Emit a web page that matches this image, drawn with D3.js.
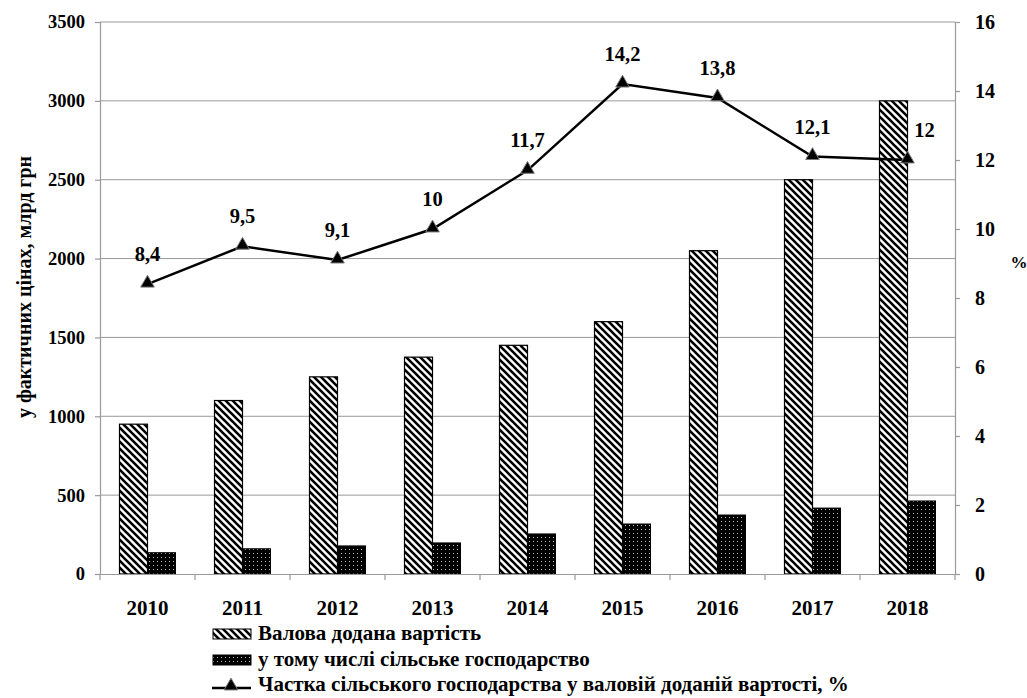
<!DOCTYPE html>
<html><head><meta charset="utf-8">
<script src="https://cdn.jsdelivr.net/npm/d3@7"></script>
</head><body style="margin:0"><svg id="c" width="1027" height="698" font-family="Liberation Serif" font-weight="bold"></svg>
<script>
const years = ["2010","2011","2012","2013","2014","2015","2016","2017","2018"];
const gva = [950, 1100, 1250, 1375, 1450, 1600, 2050, 2500, 3000];
const agri = [135, 160, 178, 197, 254, 317, 374, 418, 463];
const share = [8.4, 9.5, 9.1, 10, 11.7, 14.2, 13.8, 12.1, 12];
const shareLabels = ["8,4","9,5","9,1","10","11,7","14,2","13,8","12,1","12"];
const leftTicks = [0,500,1000,1500,2000,2500,3000,3500];
const rightTicks = [0,2,4,6,8,10,12,14,16];
const legendNames = ["Валова додана вартість","у тому числі сільське господарство","Частка сільського господарства  у валовій доданій вартості, %"];

const FF = "Liberation Serif";
const svg = d3.select("#c");
const L=100, R=955, T=22, B=574;
const defs = svg.append("defs");
const P = 7;
const ps = defs.append("pattern").attr("id","stripes").attr("patternUnits","userSpaceOnUse").attr("width",P).attr("height",P);
ps.append("rect").attr("width",P).attr("height",P).attr("fill","#fff");
ps.append("path").attr("d",`M-2,-2 L${P+2},${P+2} M-2,${P-2} L2,${P+2} M${P-2},-2 L${P+2},2`).attr("stroke","#000").attr("stroke-width",2.6);
const pd = defs.append("pattern").attr("id","dots").attr("patternUnits","userSpaceOnUse").attr("width",4).attr("height",4);
pd.append("rect").attr("width",4).attr("height",4).attr("fill","#000");
pd.append("rect").attr("x",1).attr("y",1).attr("width",1).attr("height",1).attr("fill","#bbb");

const x = d3.scaleBand().domain(years).range([L,R]);
const yL = d3.scaleLinear().domain([0,3500]).range([B,T]);
const yR = d3.scaleLinear().domain([0,16]).range([B,T]);

svg.append("g").selectAll("line").data(leftTicks.slice(1)).join("line")
 .attr("x1",L).attr("x2",R).attr("y1",d=>yL(d)).attr("y2",d=>yL(d)).attr("stroke","#999").attr("stroke-width",1);

const bw = 28, pad = (x.bandwidth()-2*bw)/2;
svg.append("g").selectAll("rect").data(years).join("rect")
 .attr("x",d=>x(d)+pad).attr("width",bw).attr("y",(d,i)=>yL(gva[i])).attr("height",(d,i)=>B-yL(gva[i]))
 .attr("fill","url(#stripes)").attr("stroke","#000").attr("stroke-width",1.2);
svg.append("g").selectAll("rect").data(years).join("rect")
 .attr("x",d=>x(d)+pad+bw).attr("width",bw).attr("y",(d,i)=>yL(agri[i])).attr("height",(d,i)=>B-yL(agri[i]))
 .attr("fill","url(#dots)").attr("stroke","#000").attr("stroke-width",1);

const axL = svg.append("g").attr("transform",`translate(${L},0)`).call(d3.axisLeft(yL).tickValues(leftTicks).tickSize(5).tickPadding(10).tickFormat(d3.format("d")));
const axR = svg.append("g").attr("transform",`translate(${R},0)`).call(d3.axisRight(yR).tickValues(rightTicks).tickSize(5).tickPadding(15));
const axB = svg.append("g").attr("transform",`translate(0,${B})`).call(d3.axisBottom(x).tickSize(0).tickPadding(26));
[axL,axR,axB].forEach(a=>{a.attr("font-family",FF).attr("font-weight","bold");a.selectAll("path,line").attr("stroke","#999").attr("stroke-width",1.2);a.selectAll("text").attr("font-family",FF).attr("font-weight","bold").attr("fill","#000");});
axL.attr("font-size",18.5); axL.selectAll("text").attr("font-size",18.5);
axR.attr("font-size",20); axR.selectAll("text").attr("font-size",20);
axB.attr("font-size",21); axB.selectAll("text").attr("font-size",21);
svg.append("g").selectAll("line").data(years.concat(["end"])).join("line")
 .attr("x1",(d,i)=>L+i*x.step()).attr("x2",(d,i)=>L+i*x.step()).attr("y1",B).attr("y2",B+6).attr("stroke","#999").attr("stroke-width",1.2);

const cx = d=>x(d)+x.bandwidth()/2;
svg.append("path").datum(years).attr("fill","none").attr("stroke","#000").attr("stroke-width",2.5)
 .attr("d",d3.line().x(d=>cx(d)).y((d,i)=>yR(share[i])));
const tri = d3.symbol().type(d3.symbolTriangle).size(80);
svg.append("g").selectAll("path").data(years).join("path").attr("d",tri)
 .attr("transform",(d,i)=>`translate(${cx(d)},${yR(share[i])-1})`).attr("fill","#000").attr("stroke","#777").attr("stroke-width",1);
svg.append("g").selectAll("text").data(years).join("text")
 .attr("x",(d,i)=>i===8?cx(d)+17:cx(d)).attr("y",(d,i)=>yR(share[i])-23)
 .attr("text-anchor","middle").attr("font-family",FF).attr("font-weight","bold").attr("font-size",20.5).text((d,i)=>shareLabels[i]);

svg.append("text").attr("transform","translate(31,287) rotate(-90)").attr("text-anchor","middle")
 .attr("font-family",FF).attr("font-weight","bold").attr("font-size",20).text("у фактичних цінах, млрд грн");
svg.append("text").attr("x",1019).attr("y",268).attr("text-anchor","middle")
 .attr("font-family",FF).attr("font-weight","bold").attr("font-size",17).text("%");

const lg = svg.append("g");
const ly = [640,666,691];
lg.append("rect").attr("x",213).attr("y",ly[0]-11).attr("width",38).attr("height",10).attr("fill","url(#stripes)").attr("stroke","#000").attr("stroke-width",1);
lg.append("rect").attr("x",213).attr("y",ly[1]-11).attr("width",38).attr("height",10).attr("fill","url(#dots)").attr("stroke","#000").attr("stroke-width",1);
lg.append("line").attr("x1",212).attr("x2",251).attr("y1",ly[2]-3).attr("y2",ly[2]-3).attr("stroke","#000").attr("stroke-width",2.5);
lg.append("path").attr("d",tri).attr("transform",`translate(231,${ly[2]-5})`).attr("fill","#000").attr("stroke","#777");
lg.selectAll("text").data(legendNames).join("text").attr("x",258).attr("y",(d,i)=>ly[i])
 .attr("font-family",FF).attr("font-weight","bold").attr("font-size",21).text(d=>d);
</script></body></html>
